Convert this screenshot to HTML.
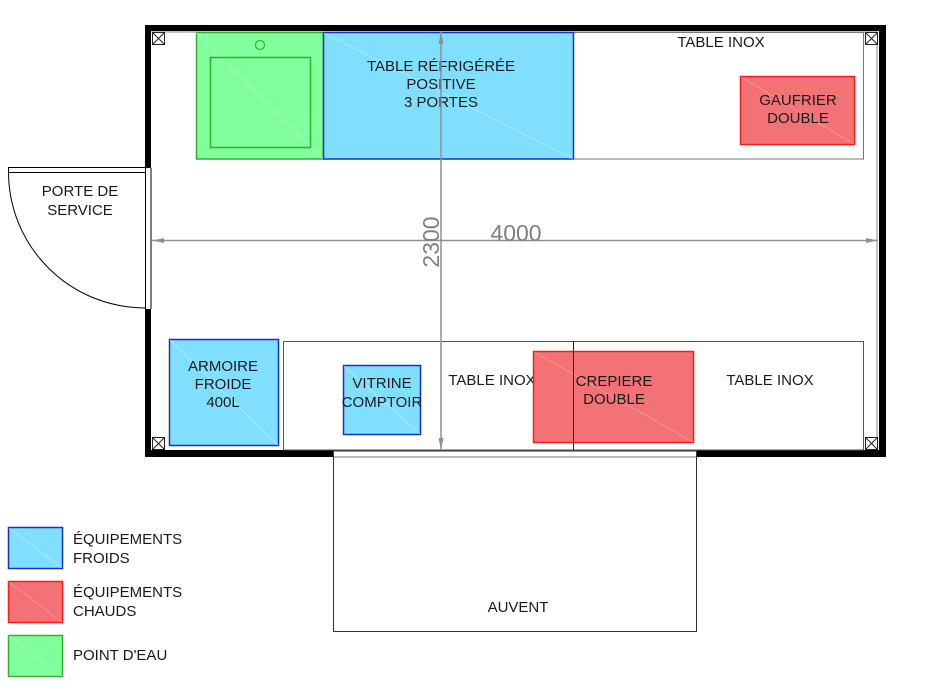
<!DOCTYPE html>
<html><head><meta charset="utf-8"><style>
html,body{margin:0;padding:0;background:#fff;}
svg{display:block;}
text{font-family:"Liberation Sans",sans-serif;fill:#1a1a1a;}
</style></head><body>
<svg width="939" height="692" viewBox="0 0 939 692" xmlns="http://www.w3.org/2000/svg">
<defs>
<marker id="ah" markerWidth="12" markerHeight="8" refX="12" refY="4" orient="auto" markerUnits="userSpaceOnUse">
<path d="M0,1.5 L12,4 L0,6.5 Z" fill="#909090"/>
</marker>
</defs>
<rect x="145" y="25" width="741" height="6" fill="#000"/>
<rect x="145" y="25" width="6" height="143" fill="#000"/>
<rect x="145" y="309" width="6" height="148" fill="#000"/>
<rect x="879" y="25" width="7" height="432" fill="#000"/>
<rect x="145" y="450" width="189" height="7" fill="#000"/>
<rect x="697" y="450" width="189" height="7" fill="#000"/>
<line x1="151" y1="32" x2="878" y2="32" stroke="#888" stroke-width="1"/>
<line x1="877" y1="32" x2="877" y2="450" stroke="#888" stroke-width="1"/>
<line x1="145.5" y1="168" x2="145.5" y2="309" stroke="#000" stroke-width="1"/>
<line x1="151" y1="168" x2="151" y2="309" stroke="#000" stroke-width="1"/>
<line x1="8" y1="167.5" x2="145" y2="167.5" stroke="#000" stroke-width="1"/>
<line x1="8" y1="172.5" x2="145" y2="172.5" stroke="#000" stroke-width="1"/>
<line x1="8.5" y1="167" x2="8.5" y2="173" stroke="#000" stroke-width="1"/>
<path d="M8.5,173 A137,136 0 0 0 145,308" fill="none" stroke="#000" stroke-width="1"/>
<text x="80" y="196" font-size="15" text-anchor="middle">PORTE DE</text>
<text x="80" y="215" font-size="15" text-anchor="middle">SERVICE</text>
<line x1="334" y1="450.5" x2="697" y2="450.5" stroke="#000" stroke-width="1"/>
<line x1="334" y1="457" x2="697" y2="457" stroke="#777" stroke-width="1"/>
<rect x="333.5" y="451" width="363" height="180.5" fill="none" stroke="#333" stroke-width="1"/>
<text x="518" y="612" font-size="15" text-anchor="middle">AUVENT</text>
<g stroke="#222" stroke-width="1" fill="#fff">
<rect x="152.5" y="32.5" width="12" height="12"/><path d="M152.5,32.5 L164.5,44.5 M164.5,32.5 L152.5,44.5"/>
<rect x="865.5" y="32.5" width="12" height="12"/><path d="M865.5,32.5 L877.5,44.5 M877.5,32.5 L865.5,44.5"/>
<rect x="152.5" y="437.5" width="12" height="12"/><path d="M152.5,437.5 L164.5,449.5 M164.5,437.5 L152.5,449.5"/>
<rect x="865.5" y="437.5" width="12" height="12"/><path d="M865.5,437.5 L877.5,449.5 M877.5,437.5 L865.5,449.5"/>
</g>
<rect x="573.5" y="32.5" width="290" height="126.5" fill="#fff" stroke="#777" stroke-width="1"/>
<text x="721" y="47" font-size="15" text-anchor="middle">TABLE INOX</text>
<rect x="196.5" y="32.5" width="127" height="126.5" fill="#80ff9c" stroke="#33b033" stroke-width="1.5"/>
<line x1="196" y1="33" x2="323" y2="159" stroke="#b8ffc8" stroke-width="0.7"/>
<rect x="210.5" y="57.5" width="100" height="90" fill="none" stroke="#33b033" stroke-width="1.5"/>
<circle cx="260" cy="45" r="4.5" fill="none" stroke="#33b033" stroke-width="1.2"/>
<rect x="323.5" y="32.5" width="250" height="126.5" fill="#80dfff" stroke="#1a2ecc" stroke-width="1.5"/>
<line x1="324" y1="33" x2="573" y2="159" stroke="#b8ecff" stroke-width="0.7"/>
<text x="441" y="71" font-size="15" text-anchor="middle">TABLE RÉFRIGÉRÉE</text>
<text x="441" y="89" font-size="15" text-anchor="middle">POSITIVE</text>
<text x="441" y="107" font-size="15" text-anchor="middle">3 PORTES</text>
<rect x="740.5" y="76.5" width="114" height="68" fill="#f27275" stroke="#ff1a1a" stroke-width="1.5"/>
<line x1="741" y1="77" x2="854" y2="144" stroke="#f7a0a2" stroke-width="0.7"/>
<text x="798" y="105" font-size="15" text-anchor="middle">GAUFRIER</text>
<text x="798" y="123" font-size="15" text-anchor="middle">DOUBLE</text>
<rect x="283.5" y="341.5" width="580" height="108.5" fill="#fff" stroke="#555" stroke-width="1"/>
<text x="492" y="385" font-size="15" text-anchor="middle">TABLE INOX</text>
<text x="770" y="385" font-size="15" text-anchor="middle">TABLE INOX</text>
<rect x="533.5" y="351.5" width="160" height="91" fill="#f27275" stroke="#ff1a1a" stroke-width="1.5"/>
<line x1="534" y1="352" x2="693" y2="442" stroke="#f7a0a2" stroke-width="0.7"/>
<line x1="573.5" y1="341" x2="573.5" y2="450" stroke="#222" stroke-width="1"/>
<text x="614" y="386" font-size="15" text-anchor="middle">CREPIERE</text>
<text x="614" y="404" font-size="15" text-anchor="middle">DOUBLE</text>
<rect x="169.5" y="339.5" width="109" height="106" fill="#80dfff" stroke="#1a2ecc" stroke-width="1.5"/>
<line x1="170" y1="340" x2="278" y2="445" stroke="#b8ecff" stroke-width="0.7"/>
<text x="223" y="371" font-size="15" text-anchor="middle">ARMOIRE</text>
<text x="223" y="389" font-size="15" text-anchor="middle">FROIDE</text>
<text x="223" y="407" font-size="15" text-anchor="middle">400L</text>
<rect x="343.5" y="365.5" width="77" height="69" fill="#80dfff" stroke="#1a2ecc" stroke-width="1.5"/>
<line x1="344" y1="366" x2="420" y2="434" stroke="#b8ecff" stroke-width="0.7"/>
<text x="382" y="388" font-size="15" text-anchor="middle">VITRINE</text>
<text x="382" y="407" font-size="15" text-anchor="middle">COMPTOIR</text>
<line x1="165" y1="240.5" x2="152" y2="240.5" stroke="#909090" stroke-width="1.5" marker-end="url(#ah)"/>
<line x1="165" y1="240.5" x2="878" y2="240.5" stroke="#909090" stroke-width="1.5" marker-end="url(#ah)"/>
<line x1="441" y1="240" x2="441" y2="32" stroke="#909090" stroke-width="1.5" marker-end="url(#ah)"/>
<line x1="441" y1="240" x2="441" y2="450" stroke="#909090" stroke-width="1.5" marker-end="url(#ah)"/>
<text x="516" y="241" font-size="23" text-anchor="middle" style="fill:#808080">4000</text>
<text transform="translate(439,242) rotate(-90)" font-size="23" text-anchor="middle" style="fill:#808080">2300</text>
<rect x="8.5" y="527.5" width="54" height="41" fill="#80dfff" stroke="#1a2ecc" stroke-width="1.5"/>
<line x1="9" y1="528" x2="62" y2="568" stroke="#b8ecff" stroke-width="0.7"/>
<rect x="8.5" y="581.5" width="54" height="41" fill="#f27275" stroke="#ff1a1a" stroke-width="1.5"/>
<line x1="9" y1="582" x2="62" y2="622" stroke="#f7a0a2" stroke-width="0.7"/>
<rect x="8.5" y="635.5" width="54" height="41" fill="#80ff9c" stroke="#33b033" stroke-width="1.5"/>
<line x1="9" y1="636" x2="62" y2="676" stroke="#b8ffc8" stroke-width="0.7"/>
<text x="73" y="544" font-size="15">ÉQUIPEMENTS</text>
<text x="73" y="563" font-size="15">FROIDS</text>
<text x="73" y="597" font-size="15">ÉQUIPEMENTS</text>
<text x="73" y="616" font-size="15">CHAUDS</text>
<text x="73" y="660" font-size="15">POINT D'EAU</text>
</svg>
</body></html>
